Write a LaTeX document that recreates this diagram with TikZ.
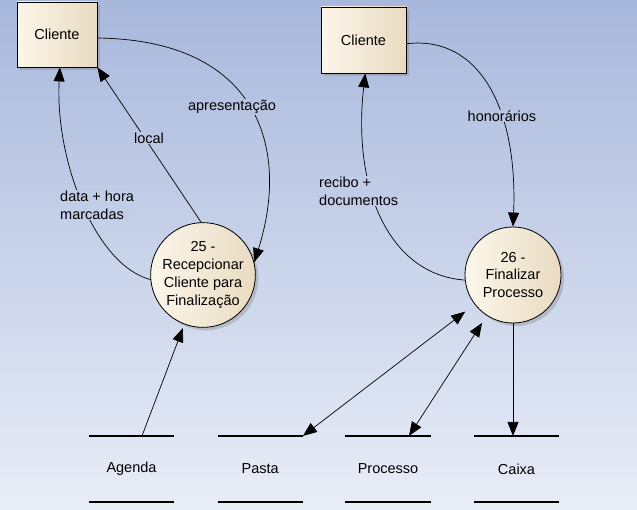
\documentclass[tikz,border=0pt]{standalone}
\usepackage{fontspec}
\setmainfont{Liberation Sans}
\usetikzlibrary{arrows.meta,shadows,calc}
\definecolor{bgtop}{RGB}{168,184,220}
\definecolor{bgbot}{RGB}{233,237,247}
\definecolor{boxl}{RGB}{252,246,234}
\definecolor{boxr}{RGB}{233,219,193}
\begin{document}
\begin{tikzpicture}[x=1pt,y=-1pt,
  txt/.style={font=\fontsize{14.5}{17.7}\selectfont},
  entity/.style={txt, draw=black, line width=0.8pt, left color=boxl, right color=boxr,
    minimum width=80pt, minimum height=65pt, inner sep=0pt,
    drop shadow={shadow xshift=3pt, shadow yshift=-3pt, opacity=0.35}},
  proc/.style={txt, circle, draw=black, line width=0.8pt, left color=boxl, right color=boxr,
    align=center, inner sep=0pt,
    drop shadow={shadow xshift=3pt, shadow yshift=-3pt, opacity=0.35}},
  store/.style={txt, minimum width=85pt, minimum height=65.7pt, inner sep=0pt},
  storeline/.style={line width=1.3pt},
  flow/.style={-{Triangle[length=14pt,width=11pt]}, line width=0.7pt},
  bflow/.style={{Triangle[length=14pt,width=11pt]}-{Triangle[length=14pt,width=11pt]}, line width=0.7pt},
  lbl/.style={txt, inner sep=1pt}
]
\fill[top color=bgtop, bottom color=bgbot] (0,0) rectangle (637,510);
\useasboundingbox (0,0) rectangle (637,510);

% entities
\node[entity] (c1) at (57,34.5) {Cliente};
\node[entity, minimum width=85pt, minimum height=66pt] (c2) at (363.5,40) {Cliente};

% processes
\node[proc, minimum size=100pt] (p25) at (203,275) {25 -\\Recepcionar\\Cliente para\\Finalização};
\node[proc, minimum size=96pt] (p26) at (513,275) {26 -\\Finalizar\\Processo};

% stores
\node[store] (agenda) at (131.5,469) {Agenda};
\node[store] (pasta) at (260.2,469) {Pasta};
\node[store] (processo) at (388,469) {Processo};
\node[store] (caixa) at (516.5,469) {Caixa};
\foreach \s in {agenda,pasta,processo,caixa}{
  \draw[storeline] (\s.north west) -- (\s.north east);
  \draw[storeline] (\s.south west) -- (\s.south east);
}

% left flows
\draw[flow] (c1.-5) .. controls (260,40) and (290,150) .. (p25.14);
\node[lbl, fill=bgbot!21!bgtop] (lapr) at (232,107) {apresentação};
\draw[flow] (p25.92) -- (c1.south east);
\node[lbl, fill=bgbot!27!bgtop] (llocal) at (149,138) {local};
\draw[flow] (p25.185) .. controls (95,265) and (55,160) .. (c1.-85);
\node[lbl, fill=bgbot!40!bgtop, align=left, anchor=west] (ldata) at (59,205) {data + hora\\marcadas};

% right flows
\draw[flow] (c2.-5) .. controls (480,35) and (518,110) .. (p26.north);
\node[lbl, fill=bgbot!23!bgtop] (lhon) at (502,116) {honorários};
\draw[flow] (p26.186) .. controls (390,275) and (352,190) .. (c2.-87);
\node[lbl, fill=bgbot!37!bgtop, align=left, anchor=west] (lrec) at (318,191) {recibo +\\documentos};

% store flows
\draw[flow, shorten >=4pt] ($(agenda.north)+(10.5,0)$) -- (p25);
\draw[bflow, shorten >=11.8pt] (pasta.north east) -- (p26);
\draw[bflow, shorten >=8.6pt] ($(processo.north)+(21,0)$) -- (p26);
\draw[flow] (p26.south) -- (p26.south |- caixa.north);
\end{tikzpicture}
\end{document}
